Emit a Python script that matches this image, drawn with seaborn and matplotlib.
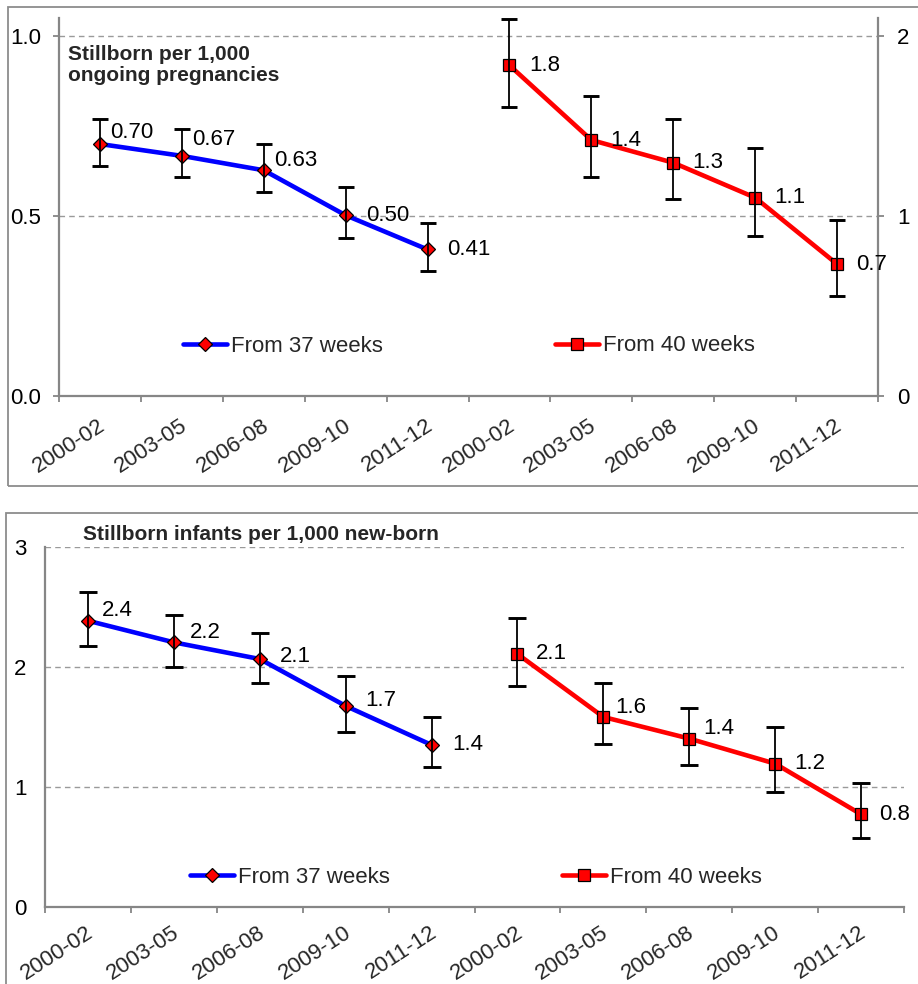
import numpy as np
import pandas as pd
import matplotlib
matplotlib.use("Agg")
import matplotlib.pyplot as plt
import seaborn as sns
from matplotlib.lines import Line2D
from matplotlib.patches import Rectangle
from matplotlib.transforms import ScaledTranslation

# ---------------- data ----------------
periods = ["2000-02", "2003-05", "2006-08", "2009-10", "2011-12"]
series_names = ["From 37 weeks", "From 40 weeks"]

top_title = "Stillborn per 1,000\nongoing pregnancies"
bottom_title = "Stillborn infants per 1,000 new-born"

# Panel A: stillborn per 1,000 ongoing pregnancies
top_37 = [0.70, 0.667, 0.627, 0.502, 0.407]
top_37_lo = [0.639, 0.609, 0.568, 0.438, 0.348]
top_37_hi = [0.769, 0.741, 0.699, 0.580, 0.480]

top_40 = [1.837, 1.422, 1.296, 1.102, 0.733]
top_40_lo = [1.604, 1.218, 1.094, 0.891, 0.557]
top_40_hi = [2.094, 1.667, 1.537, 1.376, 0.978]

# Panel B: stillborn infants per 1,000 new-born
bot_37 = [2.388, 2.208, 2.069, 1.678, 1.353]
bot_37_lo = [2.180, 2.005, 1.872, 1.464, 1.167]
bot_37_hi = [2.630, 2.436, 2.289, 1.930, 1.586]

bot_40 = [2.111, 1.586, 1.406, 1.197, 0.775]
bot_40_lo = [1.847, 1.364, 1.186, 0.964, 0.580]
bot_40_hi = [2.408, 1.867, 1.664, 1.505, 1.033]

top_left_ticks = [0.0, 0.5, 1.0]
top_left_ticklabels = ["0.0", "0.5", "1.0"]
top_right_ticks = [0, 1, 2]
top_right_ticklabels = ["0", "1", "2"]
bot_ticks = [0, 1, 2, 3]
bot_ticklabels = ["0", "1", "2", "3"]

# ---------------- layout / style ----------------
W, H = 918, 984
BLUE, RED = "#0000FF", "#FF0000"
SPINE = "#868686"
GRID = "#9a9a9a"
FS = 16      # regular text
FS_B = 15    # bold titles
MS_D, MS_S = 7.0, 8.0

# label offsets in pixels (dx, dy up)
off_top_37 = [(10, 12), (10, 16), (10, 10), (20, 0), (20, 0)]
off_top_40 = [(20, 0), (19, 0), (19, 0), (19, 0), (19, 0)]
off_bot_37 = [(14, 10), (16, 10), (20, 3), (20, 5), (21, 0)]
off_bot_40 = [(18, 0), (12, 9), (14, 10), (19, 0), (18, 0)]

sns.set_theme(style="white")
plt.rcParams["font.family"] = ["Liberation Sans", "DejaVu Sans"]
plt.rcParams["font.size"] = FS

fig = plt.figure(figsize=(W / 100, H / 100), dpi=100)


def rect(x0, y0, x1, y1):
    return [x0 / W, 1 - y1 / H, (x1 - x0) / W, (y1 - y0) / H]


# frames around the two panels
fig.add_artist(Rectangle((8 / W, 1 - 486 / H), (940 - 8) / W, (486 - 7) / H,
                         transform=fig.transFigure, fill=False, ec="#8c8c8c", lw=1.3))
fig.add_artist(Rectangle((6 / W, 1 - 1000 / H), (940 - 6) / W, (1000 - 513) / H,
                         transform=fig.transFigure, fill=False, ec="#8c8c8c", lw=1.3))

labels_all = periods + periods
pos_a = np.arange(len(periods))
pos_b = np.arange(len(periods)) + len(periods)


def style_x(ax, pad):
    ax.set_xlim(-0.5, len(labels_all) - 0.5)
    ax.set_xticks(np.arange(-0.5, len(labels_all)), labels=[""] * (len(labels_all) + 1))
    ax.set_xticks(np.arange(len(labels_all)), labels=labels_all, minor=True)
    ax.tick_params(axis="x", which="major", length=4.5, width=1.3, color=SPINE, direction="out", bottom=True)
    ax.tick_params(axis="x", which="minor", length=0, pad=pad, labelsize=FS, bottom=True)
    shift = ScaledTranslation(2.5 / 72, 0, fig.dpi_scale_trans)
    for t in ax.get_xticklabels(minor=True):
        t.set_rotation(33)
        t.set_ha("right")
        t.set_va("center")
        t.set_rotation_mode("anchor")
        t.set_transform(t.get_transform() + shift)
    ax.set_xlabel("")


def draw_series(ax, pos, vals, lo, hi, color, marker, ms, fmt, offsets, capsize):
    df = pd.DataFrame({"pos": pos, "val": vals})
    sns.lineplot(data=df, x="pos", y="val", ax=ax, color=color, linewidth=3.3,
                 marker=marker, markersize=ms, markerfacecolor="#FF0000",
                 markeredgecolor="black", markeredgewidth=0.9, zorder=3)
    v = np.array(vals)
    ax.errorbar(pos, v, yerr=[v - np.array(lo), np.array(hi) - v], fmt="none",
                ecolor="black", elinewidth=1.3, capsize=capsize, capthick=2.1,
                zorder=4, clip_on=False)
    for p, val, (dx, dy) in zip(pos, vals, offsets):
        ax.annotate(fmt.format(val), (p, val), xytext=(dx * 0.72, dy * 0.72),
                    textcoords="offset points", ha="left", va="center",
                    fontsize=FS, color="black", zorder=5)
    ax.set_xlabel("")
    ax.set_ylabel("")


def legend_handle(color, marker, ms):
    return Line2D([], [], color=color, linewidth=3.3, marker=marker, markersize=ms,
                  markerfacecolor="#FF0000", markeredgecolor="black", markeredgewidth=0.9)


def style_y(ax, pad):
    ax.tick_params(axis="y", which="major", length=4.5, width=1.3, color=SPINE,
                   direction="out", pad=pad, labelsize=FS, labelcolor="black")


def add_legend(ax, handle, label, x, y):
    return ax.legend(handles=[handle], labels=[label], loc="center left",
                     bbox_to_anchor=(x, y), frameon=False, borderpad=0,
                     borderaxespad=0, handlelength=2.0, handletextpad=0.15,
                     fontsize=FS)


# ---------------- top panel ----------------
ax = fig.add_axes(rect(59, 18, 878, 396))
ax2 = ax.twinx()
for a in (ax, ax2):
    a.set_facecolor("none")
    for s in a.spines.values():
        s.set_visible(False)
ax.patch.set_visible(False)

draw_series(ax, pos_a, top_37, top_37_lo, top_37_hi, BLUE, "D", MS_D, "{:.2f}", off_top_37, 5.6)
draw_series(ax2, pos_b, top_40, top_40_lo, top_40_hi, RED, "s", MS_S, "{:.1f}", off_top_40, 5.6)

ax.set_ylim(0, 1.05)
ax2.set_ylim(0, 2.1)
ax.set_yticks(top_left_ticks, labels=top_left_ticklabels)
ax2.set_yticks(top_right_ticks, labels=top_right_ticklabels)
ax.yaxis.grid(True, linestyle=(0, (4, 3)), color=GRID, linewidth=1.0)
ax2.yaxis.grid(False)
ax.xaxis.grid(False)
ax2.xaxis.grid(False)
ax.set_axisbelow(True)
ax.spines["left"].set_visible(True)
ax.spines["bottom"].set_visible(True)
ax2.spines["right"].set_visible(True)
for s in (ax.spines["left"], ax.spines["bottom"], ax2.spines["right"]):
    s.set_color(SPINE)
    s.set_linewidth(1.6)
style_x(ax, 20)
ax2.tick_params(axis="x", which="both", bottom=False, labelbottom=False)
style_y(ax, 8.5)
style_y(ax2, 9)
ax2.set_xlim(ax.get_xlim())

ax.text(0.011, 0.929, top_title, transform=ax.transAxes, ha="left", va="top",
        fontsize=FS_B, fontweight="bold", linespacing=1.15)

add_legend(ax, legend_handle(BLUE, "D", MS_D), series_names[0],
           (183 - 59) / 819, (396 - 346) / 378)
add_legend(ax2, legend_handle(RED, "s", MS_S), series_names[1],
           (555 - 59) / 819, (396 - 346) / 378)

# ---------------- bottom panel ----------------
bx = fig.add_axes(rect(45, 547.3, 904, 907.3))
bx.set_facecolor("none")
for s in bx.spines.values():
    s.set_visible(False)
draw_series(bx, pos_a, bot_37, bot_37_lo, bot_37_hi, BLUE, "D", MS_D, "{:.1f}", off_bot_37, 6.3)
draw_series(bx, pos_b, bot_40, bot_40_lo, bot_40_hi, RED, "s", MS_S, "{:.1f}", off_bot_40, 6.3)
bx.set_ylim(0, 3)
bx.set_yticks(bot_ticks, labels=bot_ticklabels)
bx.yaxis.grid(True, linestyle=(0, (4, 3)), color=GRID, linewidth=1.0)
bx.xaxis.grid(False)
bx.set_axisbelow(True)
for k in ("left", "bottom"):
    bx.spines[k].set_visible(True)
    bx.spines[k].set_color(SPINE)
    bx.spines[k].set_linewidth(1.6)
style_x(bx, 17)
style_y(bx, 9)

fig.text(261 / W, 1 - 534 / H, bottom_title, ha="center", va="center",
         fontsize=FS_B, fontweight="bold")

lb1 = add_legend(bx, legend_handle(BLUE, "D", MS_D), series_names[0],
                 (190 - 45) / 859, (907.3 - 877.3) / 360)
bx.add_artist(lb1)
add_legend(bx, legend_handle(RED, "s", MS_S), series_names[1],
           (562 - 45) / 859, (907.3 - 877.3) / 360)

fig.savefig("out.png", dpi=100, facecolor="white")
